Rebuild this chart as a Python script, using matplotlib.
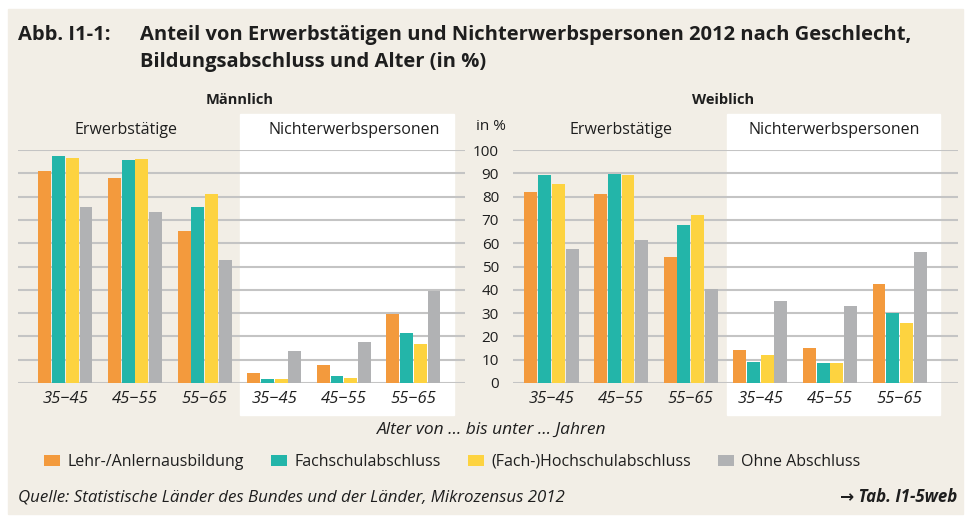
import matplotlib.pyplot as plt
from matplotlib.patches import Rectangle
import numpy as np

# Anteile in %, je Geschlecht: 3 Altersgruppen Erwerbstätige, dann 3 Nichterwerbspersonen
altersgruppen = ['35−45', '45−55', '55−65', '35−45', '45−55', '55−65']
abschluesse = ['Lehr-/Anlernausbildung', 'Fachschulabschluss',
               '(Fach-)Hochschulabschluss', 'Ohne Abschluss']

maennlich_lehr = [91.0, 88.0, 65.3, 4.4, 7.9, 29.7]
maennlich_fach = [97.4, 95.7, 75.6, 1.9, 3.1, 21.6]
maennlich_hoch = [96.6, 96.1, 81.1, 1.9, 2.3, 16.9]
maennlich_ohne = [75.6, 73.4, 52.9, 13.9, 17.7, 39.6]

weiblich_lehr = [82.0, 81.1, 54.1, 14.3, 15.1, 42.6]
weiblich_fach = [89.3, 89.7, 67.9, 9.1, 8.7, 30.1]
weiblich_hoch = [85.4, 89.3, 72.1, 12.1, 8.7, 25.9]
weiblich_ohne = [57.6, 61.4, 40.4, 35.3, 33.1, 56.3]

farben = ['#f39a3d', '#23b5a9', '#fdd340', '#b1b2b4']
beige = '#f2eee6'
textfarbe = '#1e1e1e'

plt.rcParams['font.family'] = ['Open Sans', 'DejaVu Sans']

W, H = 968, 522
fig = plt.figure(figsize=(W / 100, H / 100), dpi=100)
fig.patch.set_facecolor('white')


def fx(x):
    return x / W


def fy(y):
    return 1 - y / H


# Hintergrundkasten und weiße Felder für Nichterwerbspersonen
fig.patches.append(Rectangle((fx(8), fy(514)), fx(955), 505 / H,
                             transform=fig.transFigure, color=beige, zorder=-10))
for x0, x1 in [(240, 454), (727, 940)]:
    fig.patches.append(Rectangle((fx(x0), fy(415)), fx(x1 - x0), 301 / H,
                                 transform=fig.transFigure, color='white', zorder=-5))

ax_m = fig.add_axes([fx(18), fy(383), fx(447), 233 / H])
ax_w = fig.add_axes([fx(513), fy(383), fx(445), 233 / H])

x = np.arange(len(altersgruppen))
schritt = 0.197
breite = 0.185

for ax, reihen, xlim in [
    (ax_m, [maennlich_lehr, maennlich_fach, maennlich_hoch, maennlich_ohne], (-0.682, 5.74)),
    (ax_w, [weiblich_lehr, weiblich_fach, weiblich_hoch, weiblich_ohne], (-0.553, 5.84)),
]:
    ax.set_facecolor('none')
    handles = []
    for i, (werte, farbe) in enumerate(zip(reihen, farben)):
        b = ax.bar(x + (i - 1.5) * schritt, werte, width=breite, color=farbe,
                   zorder=3, label=abschluesse[i])
        handles.append(b)
    ax.set_xlim(*xlim)
    ax.set_ylim(0, 100)
    ax.set_yticks(np.arange(0, 101, 10))
    ax.yaxis.grid(True, color='#c4c4c4', linewidth=1.5, zorder=1)
    ax.set_axisbelow(True)
    for s in ax.spines.values():
        s.set_visible(False)
    ax.set_xticks(x)
    ax.set_xticklabels(altersgruppen, fontstyle='italic', fontsize=12, color=textfarbe)
    ax.tick_params(axis='both', length=0)
    ax.tick_params(axis='x', pad=6)

ax_m.set_yticklabels([])
ax_w.tick_params(axis='y', pad=10, labelsize=11, labelcolor=textfarbe)

# Überschriften
fig.text(fx(18), fy(35), 'Abb. I1-1:', fontsize=14.5, fontweight='bold',
         color=textfarbe, va='center')
fig.text(fx(140), fy(35), 'Anteil von Erwerbstätigen und Nichterwerbspersonen 2012 nach Geschlecht,',
         fontsize=14.5, fontweight='bold', color=textfarbe, va='center')
fig.text(fx(140), fy(62), 'Bildungsabschluss und Alter (in %)',
         fontsize=14.5, fontweight='bold', color=textfarbe, va='center')

fig.text(fx(240), fy(100), 'Männlich', fontsize=10.5, fontweight='bold',
         color=textfarbe, ha='center', va='center')
fig.text(fx(723), fy(100), 'Weiblich', fontsize=10.5, fontweight='bold',
         color=textfarbe, ha='center', va='center')
for xc, txt in [(126, 'Erwerbstätige'), (354, 'Nichterwerbspersonen'),
                (621, 'Erwerbstätige'), (834, 'Nichterwerbspersonen')]:
    fig.text(fx(xc), fy(130), txt, fontsize=11.5, color=textfarbe, ha='center', va='center')
fig.text(fx(491), fy(127), 'in %', fontsize=11, color=textfarbe, ha='center', va='center')

fig.text(fx(492), fy(430), 'Alter von … bis unter … Jahren', fontsize=12.5,
         fontstyle='italic', color=textfarbe, ha='center', va='center')

fig.legend(handles=handles, labels=abschluesse, loc='center left',
           bbox_to_anchor=(fx(30), fy(462)), ncol=4, frameon=False,
           fontsize=11.5, handlelength=1.0, handleheight=0.65, handletextpad=0.45,
           columnspacing=1.7, labelcolor=textfarbe)

fig.text(fx(18), fy(497), 'Quelle: Statistische Länder des Bundes und der Länder, Mikrozensus 2012',
         fontsize=12.2, fontstyle='italic', color=textfarbe, va='center')
fig.text(fx(957), fy(497), '→ Tab. I1-5web', fontsize=12.2, fontstyle='italic',
         fontweight='bold', color=textfarbe, ha='right', va='center')

fig.savefig('out.png', dpi=100, facecolor=fig.get_facecolor())
